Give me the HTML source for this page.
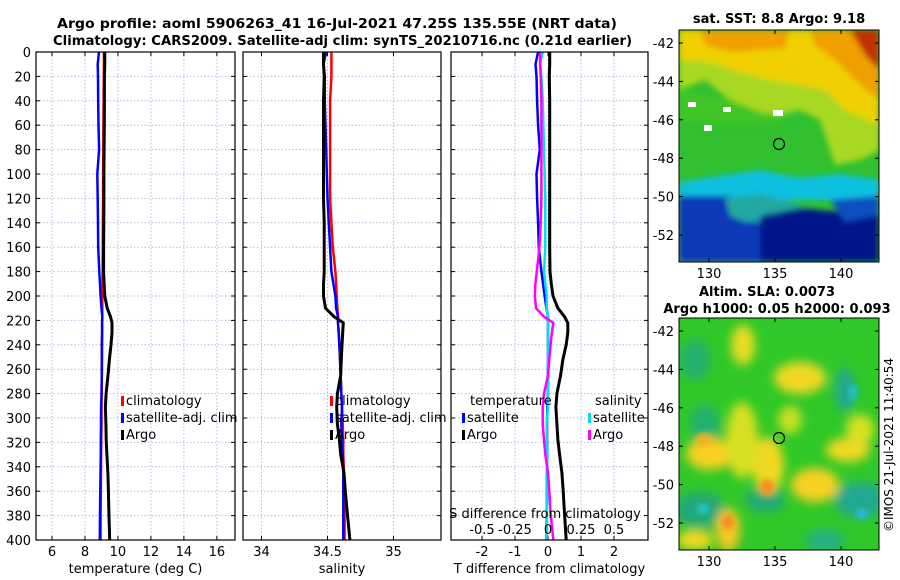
<!DOCTYPE html>
<html><head><meta charset="utf-8"><style>
html,body{margin:0;padding:0;background:#fff;width:900px;height:580px;overflow:hidden}
svg{font-family:"DejaVu Sans","Liberation Sans",sans-serif}
</style></head><body>
<svg id="fig" width="900" height="580" viewBox="0 0 900 580">
<defs>
<filter id="bl" x="-20%" y="-20%" width="140%" height="140%"><feGaussianBlur stdDeviation="3"/></filter>
<filter id="bl2" x="-30%" y="-30%" width="160%" height="160%"><feGaussianBlur stdDeviation="5"/></filter>
<clipPath id="c1"><rect x="679" y="30" width="200" height="232"/></clipPath>
<clipPath id="c2"><rect x="679" y="318" width="200" height="232"/></clipPath>
</defs>
<text x="57" y="28" font-size="13" font-weight="bold" textLength="560" lengthAdjust="spacingAndGlyphs">Argo profile: aoml 5906263_41 16-Jul-2021 47.25S 135.55E (NRT data)</text>
<text x="53" y="45" font-size="13" font-weight="bold" textLength="579" lengthAdjust="spacingAndGlyphs">Climatology: CARS2009. Satellite-adj clim: synTS_20210716.nc (0.21d earlier)</text>
<g id="panels"></g>

<g>
<text x="779" y="23" text-anchor="middle" font-size="13" font-weight="bold">sat. SST: 8.8 Argo: 9.18</text>
<g clip-path="url(#c1)">
<rect x="679" y="30" width="200" height="232" fill="#30c030"/>
<g filter="url(#bl)">
<polygon points="679,30 879,30 879,150 860,160 835,165 820,120 800,110 780,115 755,112 730,100 705,80 679,90" fill="#a8d820"/>
<polygon points="679,30 879,30 879,125 845,110 825,90 800,85 770,80 740,72 710,62 679,60" fill="#f0d000"/>
<polygon points="700,30 790,30 785,48 730,52 705,45" fill="#f0a000"/>
<polygon points="810,30 879,30 879,100 860,85 835,60 815,45" fill="#f0a000"/>
<polygon points="850,30 879,30 879,70 865,55" fill="#c03000"/>
<polygon points="679,90 730,100 760,112 790,120 770,125 720,125 679,120" fill="#40c428"/>
<polygon points="679,182 720,176 760,170 800,178 840,174 879,180 879,200 679,200" fill="#10c0e0"/>
<polygon points="679,196 730,196 760,204 760,262 679,262" fill="#0838b8"/>
<polygon points="725,198 760,194 790,202 810,210 800,216 770,222 745,222 730,216" fill="#20a8a0"/>
<polygon points="760,216 800,208 840,212 879,212 879,262 760,262" fill="#001288"/>
<polygon points="830,200 879,196 879,215 845,222" fill="#1050c0"/>
</g>
<rect x="773" y="110" width="10" height="6" fill="#fff"/>
<rect x="688" y="102" width="8" height="5" fill="#fff"/>
<rect x="704" y="125" width="8" height="6" fill="#fff"/>
<rect x="723" y="107" width="8" height="5" fill="#fff"/>
</g>
<rect x="679" y="30" width="200" height="232" fill="none" stroke="#000" stroke-width="1"/>
<circle cx="779" cy="144" r="5.5" fill="none" stroke="#000" stroke-width="1.2"/>
</g>

<g>
<text x="767" y="296" text-anchor="middle" font-size="13" font-weight="bold">Altim. SLA: 0.0073</text>
<text x="777" y="313" text-anchor="middle" font-size="13" font-weight="bold">Argo h1000: 0.05 h2000: 0.093</text>
<g clip-path="url(#c2)">
<rect x="679" y="318" width="200" height="232" fill="#30c828"/>
<g filter="url(#bl2)">
<ellipse cx="700" cy="510" rx="25" ry="18" fill="#20a878"/>
<ellipse cx="765" cy="500" rx="20" ry="12" fill="#20a878"/>
<ellipse cx="860" cy="500" rx="25" ry="18" fill="#20a890"/>
<ellipse cx="845" cy="390" rx="10" ry="22" fill="#20a890"/>
<ellipse cx="695" cy="360" rx="15" ry="20" fill="#20b070"/>
<ellipse cx="705" cy="425" rx="15" ry="20" fill="#20b070"/>
<ellipse cx="825" cy="540" rx="20" ry="10" fill="#20b088"/>
<ellipse cx="710" cy="454" rx="24" ry="16" fill="#f8d020"/>
<ellipse cx="768" cy="465" rx="16" ry="28" fill="#f0d820"/>
<ellipse cx="742" cy="440" rx="16" ry="38" fill="#d8e020"/>
<ellipse cx="800" cy="378" rx="26" ry="16" fill="#f0d820"/>
<ellipse cx="815" cy="485" rx="24" ry="17" fill="#f8d020"/>
<ellipse cx="848" cy="450" rx="22" ry="12" fill="#f0d820"/>
<ellipse cx="743" cy="345" rx="12" ry="20" fill="#e8dc20"/>
<ellipse cx="728" cy="530" rx="12" ry="22" fill="#f8c820"/>
<ellipse cx="860" cy="430" rx="14" ry="16" fill="#d8e020"/>
<ellipse cx="695" cy="540" rx="18" ry="10" fill="#f0d820"/>
<ellipse cx="790" cy="420" rx="12" ry="14" fill="#c8e020"/>
</g>
<ellipse cx="704" cy="440" rx="8" ry="6" fill="#f0b020" filter="url(#bl)"/>
<ellipse cx="767" cy="487" rx="7" ry="8" fill="#f09020" filter="url(#bl)"/>
<ellipse cx="728" cy="522" rx="6" ry="8" fill="#f09020" filter="url(#bl)"/>
<ellipse cx="703" cy="509" rx="6" ry="5" fill="#20c8d0" filter="url(#bl)"/>
<ellipse cx="862" cy="514" rx="6" ry="5" fill="#20c0e0" filter="url(#bl)"/>
<ellipse cx="853" cy="392" rx="4" ry="8" fill="#20c0d0" filter="url(#bl)"/>
</g>
<rect x="679" y="318" width="200" height="232" fill="none" stroke="#000" stroke-width="1"/>
<circle cx="779" cy="438" r="5.5" fill="none" stroke="#000" stroke-width="1.2"/>
</g>
<g id="mapaxes"></g>
<text transform="translate(893,445) rotate(-90)" text-anchor="middle" font-size="12">©IMOS 21-Jul-2021 11:40:54</text>
</svg>
<script>
// depths (m)
const depths=[0,10,20,40,60,80,100,120,140,160,180,190,200,210,217,222,230,240,252,265,280,291,305,318,330,345,360,378,400];
// climatology
const climT=[9.15,9.15,9.14,9.13,9.12,9.11,9.1,9.1,9.09,9.08,9.07,9.06,9.05,9.05,9.05,9.04,9.04,9.03,9.03,9.02,9.01,9.0,9.0,8.99,8.98,8.97,8.96,8.95,8.95];
const climS=[34.53,34.53,34.53,34.52,34.52,34.52,34.52,34.52,34.53,34.54,34.56,34.565,34.57,34.575,34.58,34.58,34.585,34.59,34.595,34.6,34.605,34.61,34.615,34.62,34.62,34.625,34.625,34.63,34.63];
// differences from climatology
const satTdiff=[-0.3,-0.38,-0.35,-0.33,-0.3,-0.25,-0.35,-0.33,-0.3,-0.28,-0.2,-0.15,-0.1,-0.05,0,0,0,0,0,0,0,-0.02,-0.03,-0.03,-0.02,-0.03,-0.03,-0.04,-0.05];
const argoTdiff=[0.05,0.05,0.04,0.05,0.05,0.05,0.05,0.05,0.05,0.05,0.06,0.1,0.15,0.3,0.5,0.6,0.6,0.55,0.45,0.38,0.27,0.24,0.27,0.3,0.35,0.42,0.46,0.5,0.55];
const satSdiff=[-0.04,-0.06,-0.05,-0.04,-0.035,-0.03,-0.025,-0.02,-0.02,-0.02,-0.03,-0.02,-0.01,-0.01,0,0,0,0,0,0,0,0,-0.01,-0.01,-0.005,-0.005,-0.005,-0.01,-0.01];
const argoSdiff=[-0.06,-0.06,-0.055,-0.05,-0.05,-0.05,-0.05,-0.05,-0.055,-0.065,-0.085,-0.095,-0.1,-0.09,-0.03,0.04,0.03,0.02,0.01,0,-0.03,-0.04,-0.04,-0.03,-0.02,0,0.01,0.02,0.04];
const depthTicks=[0,20,40,60,80,100,120,140,160,180,200,220,240,260,280,300,320,340,360,380,400];
const tTicks=[6,8,10,12,14,16];
const sTicks=[34,34.5,35];
const dTicks=[-2,-1,0,1,2];
const dsTicks=[-0.5,-0.25,0,0.25,0.5];
const dsLabels=['-0.5','-0.25','0','0.25','0.5'];
const lonTicks=[130,135,140];
const latTicks=[-42,-44,-46,-48,-50,-52];

const NS='http://www.w3.org/2000/svg';
const G=document.getElementById('panels');
function mk(tag,attrs,parent){const e=document.createElementNS(NS,tag);for(const k in attrs)e.setAttribute(k,attrs[k]);(parent||G).appendChild(e);return e;}
const Y0=52,Y1=540;
const yD=d=>Y0+d/400*(Y1-Y0);
function lin(d0,d1,p0,p1){return v=>p0+(v-d0)/(d1-d0)*(p1-p0);}
const P=[
 {x0:36,x1:235,sx:lin(5.03,17.1,36,235),name:'temperature-panel'},
 {x0:243,x1:441,sx:lin(33.86,35.36,243,441),name:'salinity-panel'},
 {x0:451,x1:648,sx:lin(-2.94,3.03,451,648),name:'difference-panel'}
];
const sxS=lin(-0.735,0.758,451,648);

function panelFrame(p,ticks,labels,xlabel){
  const g=mk('g',{});
  
  
  depthTicks.forEach(d=>{const l=mk('line',{x1:p.x0,x2:p.x1,y1:yD(d),y2:yD(d),stroke:'#b4bce0','stroke-width':1,'stroke-dasharray':'1.5,2'},g);
    
    mk('line',{x1:p.x0,x2:p.x0+4,y1:yD(d),y2:yD(d),stroke:'#000'},g);
    mk('line',{x1:p.x1-4,x2:p.x1,y1:yD(d),y2:yD(d),stroke:'#000'},g);});
  ticks.forEach((t,i)=>{const x=p.sx(t);
    const l=mk('line',{x1:x,x2:x,y1:Y0,y2:Y1,stroke:'#b4bce0','stroke-width':1,'stroke-dasharray':'1.5,2'},g);
    
    mk('line',{x1:x,x2:x,y1:Y1-4,y2:Y1,stroke:'#000'},g);
    mk('line',{x1:x,x2:x,y1:Y0,y2:Y0+4,stroke:'#000'},g);
    const tx=mk('text',{x:x,y:556,'text-anchor':'middle','font-size':13},g);tx.textContent=labels[i];
    });
  const xl=mk('text',{x:(p.x0+p.x1)/2,y:573,'text-anchor':'middle','font-size':13},g);xl.textContent=xlabel;
  
  return g;
}
function series(g,xs,color,name,w){
  const pts=depths.map((d,i)=>xs[i].toFixed(1)+','+yD(d).toFixed(1)).join(' ');
  const l=mk('polyline',{points:pts,fill:'none',stroke:color,'stroke-width':w||2.5,'stroke-linejoin':'round'},g);
  
}
function box(g,p){const r=mk('rect',{x:p.x0,y:Y0,width:p.x1-p.x0,height:Y1-Y0,fill:'none',stroke:'#000','stroke-width':1.2},g);
  }
function legendEntry(g,x,y,color,label){
  const m=mk('rect',{x:x,y:y-9,width:3,height:10,fill:color},g);
  
  const t=mk('text',{x:x+5,y:y,'font-size':13},g);t.textContent=label;
  
}
// Panel 1
let g=panelFrame(P[0],tTicks,tTicks.map(String),'temperature (deg C)');
depthTicks.forEach(d=>{const t=mk('text',{x:31,y:yD(d)+5,'text-anchor':'end','font-size':13},g);t.textContent=d;
  });
series(g,climT.map(v=>P[0].sx(v)),'#ff0000','climatology-temperature-line');
series(g,climT.map((v,i)=>P[0].sx(v+satTdiff[i])),'#0000ff','satellite-temperature-line');
series(g,climT.map((v,i)=>P[0].sx(v+argoTdiff[i])),'#000000','argo-temperature-line',3);
box(g,P[0]);
legendEntry(g,121,405,'#ff0000','climatology');
legendEntry(g,121,422,'#0000ff','satellite-adj. clim');
legendEntry(g,121,439,'#000000','Argo');
// Panel 2
g=panelFrame(P[1],sTicks,['34','34.5','35'],'salinity');
series(g,climS.map(v=>P[1].sx(v)),'#ff0000','climatology-salinity-line');
series(g,climS.map((v,i)=>P[1].sx(v+satSdiff[i])),'#0000ff','satellite-salinity-line');
series(g,climS.map((v,i)=>P[1].sx(v+argoSdiff[i])),'#000000','argo-salinity-line',3);
box(g,P[1]);
legendEntry(g,330,405,'#ff0000','climatology');
legendEntry(g,330,422,'#0000ff','satellite-adj. clim');
legendEntry(g,330,439,'#000000','Argo');
// Panel 3
g=panelFrame(P[2],dTicks,dTicks.map(String),'T difference from climatology');
series(g,satTdiff.map(v=>P[2].sx(v)),'#0000ff','satellite-temperature-diff-line');
series(g,satSdiff.map(v=>sxS(v)),'#00e0e8','satellite-salinity-diff-line');
series(g,argoSdiff.map(v=>sxS(v)),'#ff00ff','argo-salinity-diff-line');
series(g,argoTdiff.map(v=>P[2].sx(v)),'#000000','argo-temperature-diff-line',3);
box(g,P[2]);
let t=mk('text',{x:470,y:405,'font-size':13},g);t.textContent='temperature';

t=mk('text',{x:595,y:405,'font-size':13},g);t.textContent='salinity';

legendEntry(g,462,422,'#0000ff','satellite');
legendEntry(g,462,439,'#000000','Argo');
legendEntry(g,588,422,'#00e0e8','satellite');
legendEntry(g,588,439,'#ff00ff','Argo');
t=mk('text',{x:545,y:518,'text-anchor':'middle','font-size':13},g);t.textContent='S difference from climatology';

dsTicks.forEach((v,i)=>{const tt=mk('text',{x:sxS(v),y:534,'text-anchor':'middle','font-size':13},g);tt.textContent=dsLabels[i];
  });

// map axes
const MA=document.getElementById('mapaxes');
const lonX=lin(130,140,709,841);
[[30,262],[318,550]].forEach(([y0,y1],mi)=>{
  const latY=lin(-42,-52,y0+13,y0+205);
  lonTicks.forEach(v=>{const x=lonX(v);mk('line',{x1:x,x2:x,y1:y1-4,y2:y1,stroke:'#000'},MA);mk('line',{x1:x,x2:x,y1:y0,y2:y0+4,stroke:'#000'},MA);
    const tt=mk('text',{x:x,y:y1+16,'text-anchor':'middle','font-size':13},MA);tt.textContent=v;
    });
  latTicks.forEach(v=>{const y=latY(v);mk('line',{x1:679,x2:683,y1:y,y2:y,stroke:'#000'},MA);mk('line',{x1:875,x2:879,y1:y,y2:y,stroke:'#000'},MA);
    const tt=mk('text',{x:674,y:y+5,'text-anchor':'end','font-size':13},MA);tt.textContent=v;
    });
});
</script>
</body></html>
